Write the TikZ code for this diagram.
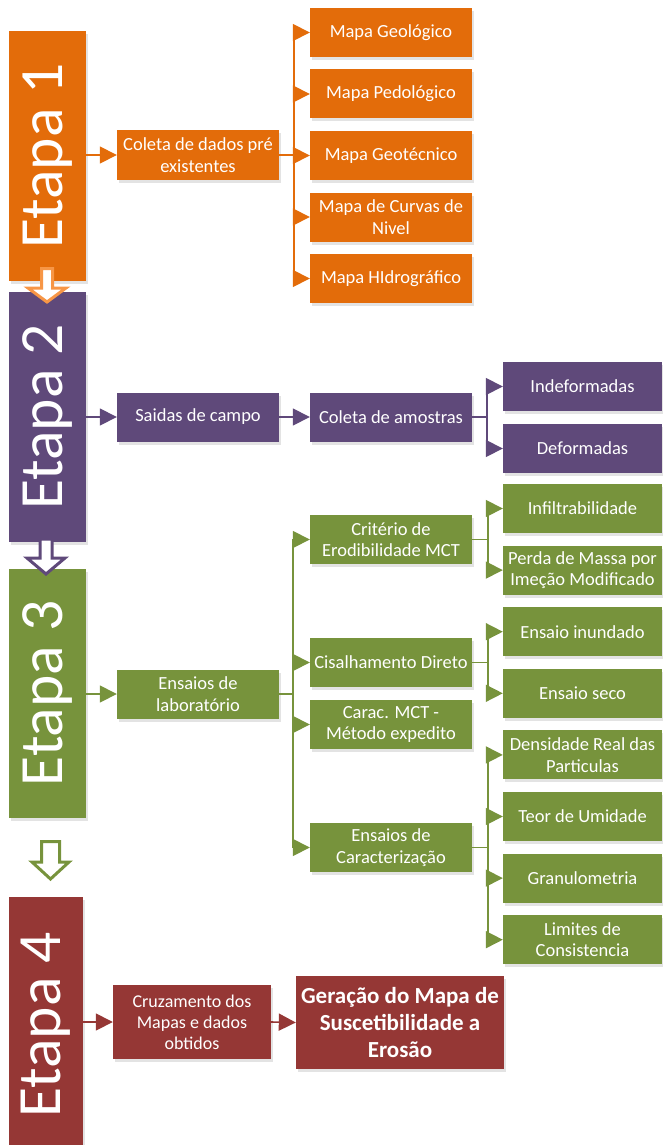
\documentclass[tikz,border=0pt]{standalone}
\usepackage{fontspec}
\setmainfont{Carlito}
\usetikzlibrary{arrows.meta,shadows,positioning}

\definecolor{laranja}{HTML}{E36C0A}
\definecolor{laranjaclaro}{HTML}{F79646}
\definecolor{roxo}{HTML}{5F497A}
\definecolor{verde}{HTML}{77933C}
\definecolor{vermelho}{HTML}{953735}

\tikzset{
	sombra/.style={drop shadow={shadow xshift=2pt, shadow yshift=-3pt, opacity=0.22}},
	caixa/.style={fill=#1, text=white, minimum width=162pt, minimum height=49pt, inner sep=1pt, align=center, font=\fontsize{18.5}{21.5}\selectfont, sombra},
	etapa/.style={fill=#1, text=white, minimum width=77pt, minimum height=250pt, inner sep=0pt, font=\fontsize{61.5}{61.5}\selectfont, sombra},
	liga/.style={draw=#1, line width=1.6pt, -{Triangle[length=17pt, width=17pt]}},
	seta/.style={draw=#1, fill=white, line width=3pt},
}

\begin{document}
\begin{tikzpicture}[x=1pt, y=-1pt]
	\useasboundingbox (0,0) rectangle (662,1145);
	% Etapas
	\node [etapa=laranja] (e1) at (47.5,156) {\rotatebox{90}{Etapa 1}};
	\node [etapa=roxo] (e2) at (47.5,417) {\rotatebox{90}{Etapa 2}};
	\node [etapa=verde, minimum height=249pt] (e3) at (47.5,693.5) {\rotatebox{90}{Etapa 3}};
	\node [etapa=vermelho, minimum width=74pt, minimum height=256pt] (e4) at (46,1025) {\rotatebox{90}{Etapa 4}};
	% Etapa 1
	\node [caixa=laranja] (c1) at (198,155) {Coleta de dados pré\\existentes};
	\foreach \t [count=\i] in {Mapa Geológico, Mapa Pedológico, Mapa Geotécnico, {Mapa de Curvas de\\Nivel}, Mapa HIdrográfico} {
		\node [caixa=laranja] (m\i) at (391,{32.5+61.5*(\i-1)}) {\t};
	}
	% Etapa 2
	\node [caixa=roxo] (s2) at (198,417) {Saidas de campo};
	\node [caixa=roxo] (a2) at (391,417) {Coleta de amostras};
	\node [caixa=roxo, minimum width=159pt] (i2) at (582.5,386.5) {Indeformadas};
	\node [caixa=roxo, minimum width=159pt] (d2) at (582.5,448.5) {Deformadas};
	% Etapa 3
	\node [caixa=verde] (l3) at (198,694) {Ensaios de\\laboratório};
	\node [caixa=verde] (g1) at (391,539.5) {Critério de\\Erodibilidade MCT};
	\node [caixa=verde] (g2) at (391,662.5) {Cisalhamento Direto};
	\node [caixa=verde] (g3) at (391,724.5) {Carac. MCT -\\Método expedito};
	\node [caixa=verde] (g4) at (391,847.5) {Ensaios de\\Caracterização};
	\foreach \t [count=\i] in {Infiltrabilidade, {Perda de Massa por\\Imeção Modificado}, Ensaio inundado, Ensaio seco, {Densidade Real das\\Particulas}, Teor de Umidade, Granulometria, {Limites de\\Consistencia}} {
		\node [caixa=verde, minimum width=159pt] (h\i) at (582.5,{508.5+61.6*(\i-1)}) {\t};
	}
	% Etapa 4
	\node [caixa=vermelho, minimum width=158pt, minimum height=74pt, font=\fontsize{18}{21}\selectfont] (cz) at (192,1022) {Cruzamento dos\\Mapas e dados\\obtidos};
	\node [caixa=vermelho, minimum width=208pt, minimum height=93pt, font=\fontsize{23}{27}\selectfont\bfseries] (ger) at (400,1022.5) {Geração do Mapa de\\Suscetibilidade a\\Erosão};

	% Ligacoes
	\coordinate [right=15pt of c1.east] (r1);
	\coordinate [right=15pt of a2.east] (r2);
	\coordinate [right=14pt of l3.east] (r3);
	\coordinate [right=16pt of g1.east] (q1);
	\coordinate [right=16pt of g2.east] (q2);
	\coordinate [right=16pt of g4.east] (q4);
	\draw [liga=laranja] (e1.east |- c1) -- (c1.west);
	\foreach \m in {m1, m2, m3, m4, m5} {
		\draw [liga=laranja] (c1.east) -- (r1) |- (\m.west);
	}
	\draw [liga=roxo] (e2.east |- s2) -- (s2.west);
	\draw [liga=roxo] (s2.east) -- (a2.west);
	\foreach \m in {i2, d2} {
		\draw [liga=roxo] (a2.east) -- (r2) |- (\m.west);
	}
	\draw [liga=verde] (e3.east |- l3) -- (l3.west);
	\foreach \m in {g1, g2, g3, g4} {
		\draw [liga=verde] (l3.east) -- (r3) |- (\m.west);
	}
	\foreach \m in {h1, h2} {
		\draw [liga=verde] (g1.east) -- (q1) |- (\m.west);
	}
	\foreach \m in {h3, h4} {
		\draw [liga=verde] (g2.east) -- (q2) |- (\m.west);
	}
	\foreach \m in {h5, h6, h7, h8} {
		\draw [liga=verde] (g4.east) -- (q4) |- (\m.west);
	}
	\draw [liga=vermelho] (e4.east |- cz) -- (cz.west);
	\draw [liga=vermelho] (cz.east) -- (ger.west);

	% Setas entre etapas
	\foreach \cor/\x/\a/\b/\c/\w/\h in {laranjaclaro/47/268.5/288/302/5.5/19, roxo/46/539/558/574/6/19, verde/50.5/841.5/862/879/9/18.5} {
		\draw [seta=\cor] (\x-\w,\a) -- (\x+\w,\a) -- (\x+\w,\b) -- (\x+\h,\b) -- (\x,\c) -- (\x-\h,\b) -- (\x-\w,\b) -- cycle;
	}
\end{tikzpicture}
\end{document}
